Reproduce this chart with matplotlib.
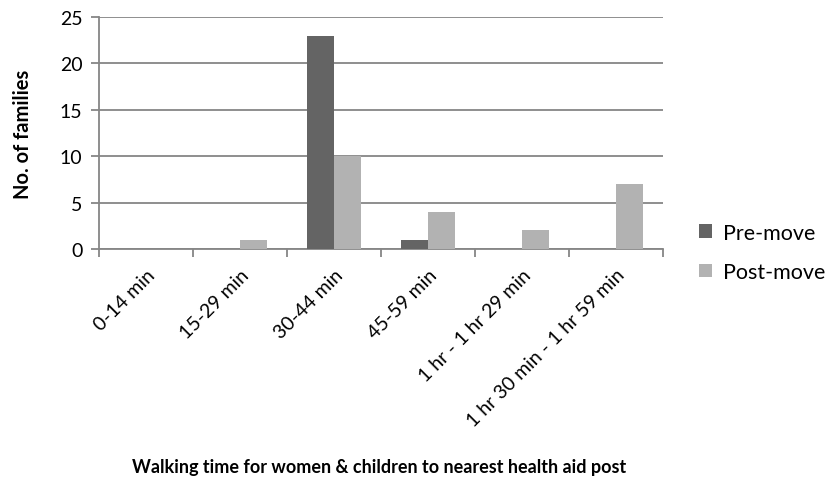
import matplotlib.pyplot as plt
import numpy as np

plt.rcParams['font.family'] = ['Lato', 'DejaVu Sans']

categories = ['0-14 min', '15-29 min', '30-44 min', '45-59 min',
              '1 hr - 1 hr 29 min', '1 hr 30 min - 1 hr 59 min']
pre_move = [0, 0, 23, 1, 0, 0]
post_move = [0, 1, 10, 4, 2, 7]

grey = '#868686'
x = np.arange(len(categories))
w = 0.29

fig = plt.figure(figsize=(8.25, 4.85), dpi=100)
ax = fig.add_axes([0.12, 0.4845, 0.6836, 0.4785])

ax.bar(x - w / 2, pre_move, w, color='#646464', label='Pre-move', zorder=3)
ax.bar(x + w / 2, post_move, w, color='#b2b2b2', label='Post-move', zorder=3)

ax.set_xlim(-0.5, len(categories) - 0.5)
ax.set_ylim(0, 25)
ax.set_yticks(range(0, 26, 5))
ax.yaxis.grid(True, color=grey, linewidth=1.3, zorder=0)

ax.set_xticks(x)
ax.set_xticklabels(categories, rotation=45, ha='right', rotation_mode='anchor',
                   fontsize=14)
ax.set_xticks(np.arange(-0.5, len(categories)), minor=True)
ax.tick_params(axis='x', which='major', length=0, pad=12)
ax.tick_params(axis='x', which='minor', length=6, color=grey, width=1.3)
ax.tick_params(axis='y', length=6, color=grey, width=1.3, labelsize=14, pad=6)

for side in ['top', 'right']:
    ax.spines[side].set_visible(False)
for side in ['left', 'bottom']:
    ax.spines[side].set_color(grey)
    ax.spines[side].set_linewidth(1.3)

ax.set_ylabel('No. of families', fontsize=14.5, fontweight='bold')
ax.yaxis.set_label_coords(-0.117, 0.5)
fig.text(0.46, 0.037, 'Walking time for women & children to nearest health aid post',
         ha='center', va='center', fontsize=13, fontweight='bold')

ax.legend(loc='center left', bbox_to_anchor=(1.03, -0.015), frameon=False,
          fontsize=15.5, handlelength=0.6, handleheight=0.6, handletextpad=0.5,
          labelspacing=0.9)

fig.savefig('out.png', dpi=100)
